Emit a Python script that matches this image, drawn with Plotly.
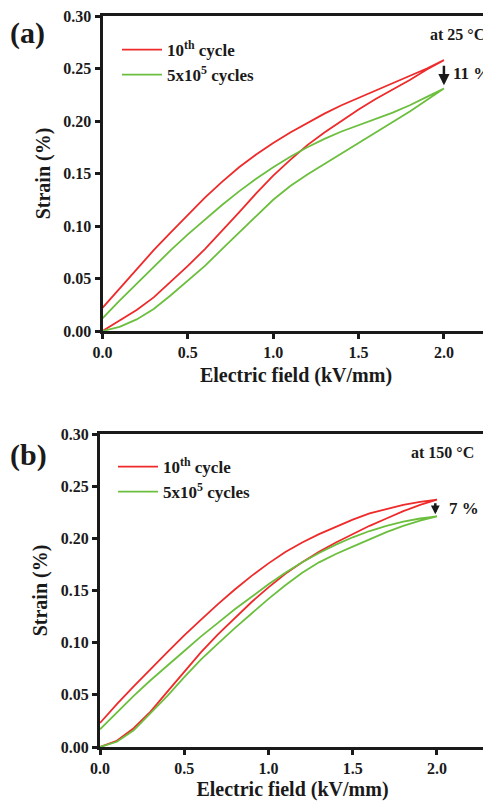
import plotly.graph_objects as go

# ---------------- data ----------------
x_up = [0.0, 0.1, 0.2, 0.3, 0.4, 0.5, 0.6, 0.7, 0.8, 0.9, 1.0,
        1.1, 1.2, 1.3, 1.4, 1.5, 1.6, 1.7, 1.8, 1.9, 2.0]
x_dn = x_up[::-1]

# Panel (a): at 25 °C  (rising branch; falling branch listed from 2.0 down to 0)
a_red_rise = [0.000, 0.010, 0.020, 0.032, 0.047, 0.062, 0.078, 0.095, 0.113, 0.131, 0.148,
              0.163, 0.177, 0.189, 0.200, 0.211, 0.221, 0.230, 0.239, 0.249, 0.258]
a_red_fall = [0.258, 0.250, 0.243, 0.236, 0.229, 0.222, 0.215, 0.207, 0.198, 0.189, 0.179,
              0.168, 0.156, 0.142, 0.127, 0.111, 0.094, 0.077, 0.059, 0.041, 0.022]
a_grn_rise = [0.000, 0.004, 0.011, 0.021, 0.034, 0.048, 0.062, 0.078, 0.094, 0.110, 0.125,
              0.138, 0.149, 0.159, 0.169, 0.179, 0.189, 0.199, 0.209, 0.220, 0.231]
a_grn_fall = [0.231, 0.223, 0.215, 0.208, 0.202, 0.196, 0.190, 0.183, 0.175, 0.166, 0.156,
              0.145, 0.133, 0.120, 0.106, 0.092, 0.077, 0.061, 0.046, 0.029, 0.012]

# Panel (b): at 150 °C
b_red_rise = [0.000, 0.006, 0.018, 0.034, 0.053, 0.072, 0.091, 0.108, 0.124, 0.139, 0.153,
              0.166, 0.177, 0.187, 0.196, 0.204, 0.212, 0.219, 0.226, 0.232, 0.237]
b_red_fall = [0.237, 0.235, 0.232, 0.228, 0.224, 0.218, 0.211, 0.204, 0.196, 0.187, 0.176,
              0.164, 0.151, 0.137, 0.122, 0.107, 0.091, 0.075, 0.058, 0.041, 0.023]
b_grn_rise = [0.000, 0.005, 0.016, 0.032, 0.049, 0.067, 0.084, 0.099, 0.114, 0.128, 0.142,
              0.155, 0.167, 0.177, 0.185, 0.192, 0.199, 0.206, 0.212, 0.217, 0.221]
b_grn_fall = [0.221, 0.219, 0.216, 0.212, 0.207, 0.201, 0.194, 0.186, 0.177, 0.167, 0.156,
              0.144, 0.132, 0.119, 0.106, 0.092, 0.078, 0.064, 0.049, 0.033, 0.017]

x_ticks = [0.0, 0.5, 1.0, 1.5, 2.0]
y_ticks = [0.00, 0.05, 0.10, 0.15, 0.20, 0.25, 0.30]

series_names = ["10<sup>th</sup> cycle", "5x10<sup>5</sup> cycles"]
panel_labels = ["(a)", "(b)"]
temps = ["at 25 \u00b0C", "at 150 \u00b0C"]
drops = ["11 %", "7 %"]

RED = "#ee2a2a"
GREEN = "#6cbf3e"
INK = "#1a1a1a"
FONT = "Liberation Serif, Times New Roman, DejaVu Serif, serif"

# page body adds an 8px margin, so the figure is 8px smaller and shifted
OFF = 8
W, H = 491 - OFF, 801 - OFF

fig = go.Figure()

panels = [
    (a_red_rise, a_red_fall, a_grn_rise, a_grn_fall, "x", "y", "legend"),
    (b_red_rise, b_red_fall, b_grn_rise, b_grn_fall, "x2", "y2", "legend2"),
]
for r_up, r_dn, g_up, g_dn, xa, ya, lg in panels:
    fig.add_trace(go.Scatter(x=x_up + x_dn[1:], y=r_up + r_dn[1:], mode="lines",
                             name=series_names[0], line=dict(color=RED, width=1.8),
                             xaxis=xa, yaxis=ya, legend=lg))
    fig.add_trace(go.Scatter(x=x_up + x_dn[1:], y=g_up + g_dn[1:], mode="lines",
                             name=series_names[1], line=dict(color=GREEN, width=1.8),
                             xaxis=xa, yaxis=ya, legend=lg))


def px_x(p):
    return (p - OFF) / W


def px_y(p):
    return 1 - (p - OFF) / H


axis_common = dict(showline=True, linewidth=3, linecolor=INK, mirror=True,
                   ticks="outside", ticklen=5, tickwidth=3, tickcolor=INK,
                   showgrid=False, zeroline=False, automargin=False,
                   ticklabeloverflow="allow",
                   tickfont=dict(family=FONT, size=16, color=INK, weight="bold"))
title_font = dict(family=FONT, size=20, color=INK, weight="bold")

fig.update_layout(
    width=W, height=H, margin=dict(l=0, r=0, t=0, b=0, autoexpand=False),
    paper_bgcolor="white", plot_bgcolor="white",
    xaxis=dict(domain=[px_x(102.5), px_x(489.5)], range=[0, 2.267], tickvals=x_ticks,
               tickformat=".1f", anchor="y",
               title=dict(text="Electric field (kV/mm)", font=title_font, standoff=8),
               **axis_common),
    yaxis=dict(domain=[px_y(331), px_y(16)], range=[0, 0.30], tickvals=y_ticks,
               tickformat=".2f", anchor="x",
               title=dict(text="Strain (%)", font=title_font, standoff=8),
               **axis_common),
    xaxis2=dict(domain=[px_x(100), px_x(485)], range=[0, 2.285], tickvals=x_ticks,
                tickformat=".1f", anchor="y2",
                title=dict(text="Electric field (kV/mm)", font=title_font, standoff=8),
                **axis_common),
    yaxis2=dict(domain=[px_y(747), px_y(434)], range=[0, 0.30], tickvals=y_ticks,
                tickformat=".2f", anchor="x2",
                title=dict(text="Strain (%)", font=title_font, standoff=8),
                **axis_common),
    legend=dict(x=px_x(117), y=px_y(32), xanchor="left", yanchor="top",
                bgcolor="rgba(0,0,0,0)", tracegroupgap=0, itemwidth=40,
                font=dict(family=FONT, size=17, color=INK, weight="bold")),
    legend2=dict(x=px_x(113), y=px_y(449), xanchor="left", yanchor="top",
                 bgcolor="rgba(0,0,0,0)", tracegroupgap=0, itemwidth=40,
                 font=dict(family=FONT, size=17, color=INK, weight="bold")),
)

ann_font = dict(family=FONT, size=16, color=INK, weight="bold")
fig.add_annotation(text=panel_labels[0], x=px_x(8), y=px_y(33), xref="paper", yref="paper",
                   xanchor="left", yanchor="middle", showarrow=False,
                   font=dict(family=FONT, size=30, color=INK, weight="bold"))
fig.add_annotation(text=panel_labels[1], x=px_x(8), y=px_y(455), xref="paper", yref="paper",
                   xanchor="left", yanchor="middle", showarrow=False,
                   font=dict(family=FONT, size=30, color=INK, weight="bold"))
fig.add_annotation(text=temps[0], x=px_x(487), y=px_y(35), xref="paper", yref="paper",
                   xanchor="right", yanchor="middle", showarrow=False, font=ann_font)
fig.add_annotation(text=temps[1], x=px_x(476), y=px_y(453), xref="paper", yref="paper",
                   xanchor="right", yanchor="middle", showarrow=False, font=ann_font)
fig.add_annotation(x=2.0, y=0.234, ax=2.0, ay=0.254, xref="x", yref="y", axref="x", ayref="y",
                   showarrow=True, arrowhead=2, arrowsize=0.9, arrowwidth=2.5, arrowcolor=INK,
                   text="", standoff=0)
fig.add_annotation(x=1.99, y=0.223, ax=1.99, ay=0.235, xref="x2", yref="y2", axref="x2", ayref="y2",
                   showarrow=True, arrowhead=2, arrowsize=0.7, arrowwidth=2.5, arrowcolor=INK,
                   text="", standoff=0)
fig.add_annotation(text=drops[0], x=2.04, y=0.245, xref="x", yref="y",
                   xanchor="left", yanchor="middle", showarrow=False,
                   font=dict(family=FONT, size=17, color=INK, weight="bold"))
fig.add_annotation(text=drops[1], x=2.06, y=0.229, xref="x2", yref="y2",
                   xanchor="left", yanchor="middle", showarrow=False,
                   font=dict(family=FONT, size=17, color=INK, weight="bold"))

fig.write_html("out.html")
